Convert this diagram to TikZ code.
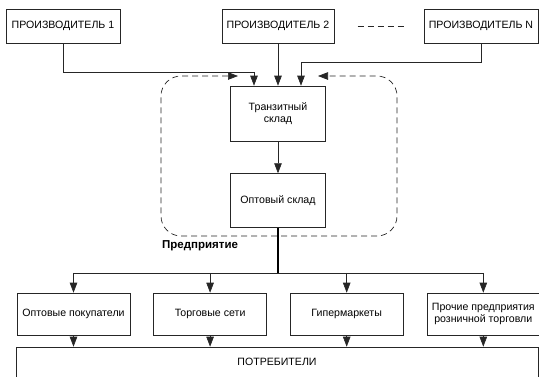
\documentclass[tikz,border=0pt]{standalone}
\usepackage{fontspec}
\setmainfont{Liberation Sans}
\usetikzlibrary{arrows.meta, calc, positioning}
\definecolor{ink}{HTML}{262626}
\tikzset{
  >={Triangle[length=10pt, width=7.5pt]},
  every picture/.style={line join=miter},
  box/.style={draw=ink, fill=white, line width=0.6pt, align=center, inner sep=2pt,
              font=\fontsize{10.6}{12.5}\selectfont},
  src/.style={box, minimum width=114pt, minimum height=34pt},
  store/.style={box, minimum width=95pt, minimum height=55pt},
  shop/.style={box, minimum width=113pt, minimum height=42pt},
  sig/.style={->, draw=ink, line width=0.6pt},
  trunk/.style={black, line width=1.5pt},
  frame/.style={draw=ink, line width=0.7pt, dash pattern=on 6pt off 4pt},
  lbl/.style={font=\fontsize{11.5}{13}\selectfont\bfseries, inner sep=0pt},
}

\begin{document}
\begin{tikzpicture}[x=1pt, y=-1pt, node distance=23pt]
  \useasboundingbox (0,0) rectangle (539,376);
  % producers
  \node[src] (p1) at (63,26) {ПРОИЗВОДИТЕЛЬ 1};
  \node[src, minimum width=112pt] (p2) at (278,26) {ПРОИЗВОДИТЕЛЬ 2};
  \node[src] (pn) at (481,26) {ПРОИЗВОДИТЕЛЬ N};
  \draw[frame] ($(p2.east)!0.26!(pn.west)$) -- ($(p2.east)!0.81!(pn.west)$);
  % enterprise
  \node[store] (tr) at (278,113.5) {Транзитный\\склад};
  \node[store, below=32pt of tr, minimum height=54pt] (opt) {Оптовый склад};
  \coordinate (in1) at ([xshift=-24pt]tr.north);
  \coordinate (in3) at ([xshift=23pt]tr.north);
  \coordinate (fl) at (238,76);
  \coordinate (fr) at (318,76);
  \draw[frame, <->, rounded corners=20pt] (fl) -- (161,76) -- (161,236) -- (397,236) -- (397,76) -- (fr);
  \node[lbl, anchor=base west] (ent) at (162,248) {Предприятие};
  % retail row
  \node[shop] (b1) at (73.5,314) {Оптовые покупатели};
  \node[shop, right=of b1] (b2) {Торговые сети};
  \node[shop, right=of b2] (b3) {Гипермаркеты};
  \node[shop, right=of b3] (b4) {Прочие предприятия\\розничной торговли};
  \node[box, minimum width=522pt, minimum height=30pt] (cons) at (277,362) {ПОТРЕБИТЕЛИ};
  \coordinate (j) at ($(opt.south)+(0,45)$);
  % supply paths
  \draw[sig] (p1.south) -- ++(0,29) -| (in1);
  \draw[sig] (p2.south) -- (tr.north);
  \draw[sig] (pn.south) -- ++(0,19) -| (in3);
  \draw[sig] (tr) -- (opt);
  \draw[trunk] (opt.south) -- (j);
  \draw[draw=ink, line width=0.6pt] (b1.north |- j) -- (b4.north |- j);
  \foreach \b in {b1, b2, b3, b4} {
    \draw[sig] (\b.north |- j) -- (\b.north);
    \draw[sig] (\b.south) -- (\b.south |- cons.north);
  }
\end{tikzpicture}
\end{document}
